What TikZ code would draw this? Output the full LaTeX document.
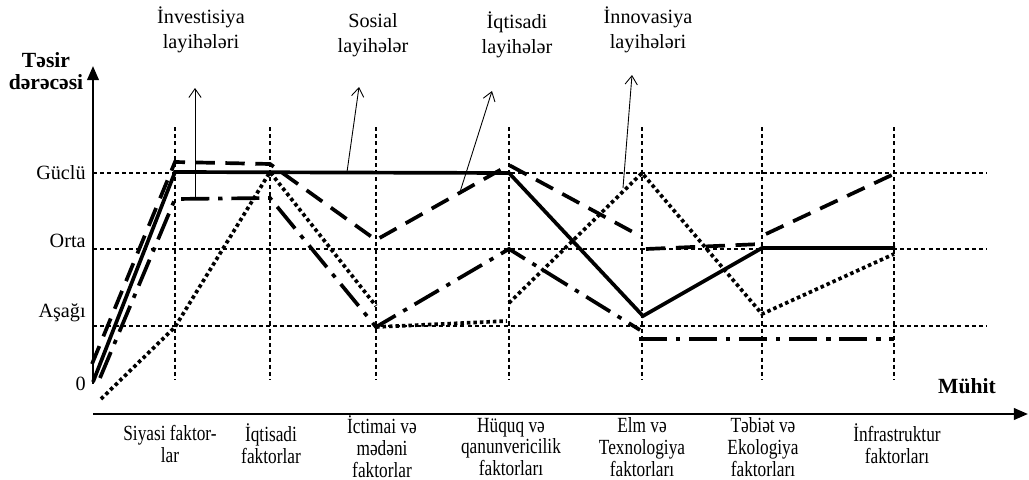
\documentclass[tikz,border=0pt]{standalone}
\usepackage{fontspec}
\setmainfont{Liberation Serif}
\newfontfamily\condfont[FakeStretch=0.8]{Liberation Serif}
\usetikzlibrary{arrows.meta}

\begin{document}
\begin{tikzpicture}[x=0.02cm,y=-0.02cm,
  grid/.style={line width=0.6pt, dash pattern=on 2.3pt off 1.8pt},
  axis/.style={line width=1.4pt, -{Triangle[length=8pt,width=6.5pt]}},
  solidser/.style={line width=2.1pt},
  dashser/.style={line width=2.1pt, dash pattern=on 11pt off 6pt},
  dashdotser/.style={line width=2.1pt, dash pattern=on 16pt off 5pt on 2.5pt off 5pt},
  dotser/.style={line width=2.1pt, dash pattern=on 2pt off 1.7pt},
  pointer/.style={line width=0.5pt, -{Straight Barb[length=5pt,width=7pt]}},
  lbl/.style={font=\fontsize{11.5}{14.2}\selectfont, align=center, inner sep=0pt},
  level/.style={font=\fontsize{11.5}{13}\selectfont, anchor=east, inner sep=0pt},
  factor/.style={font=\condfont\fontsize{12.3}{12.5}\selectfont, align=center, inner sep=0pt},
  axislabel/.style={font=\bfseries\fontsize{12.3}{12.5}\selectfont, align=center, inner sep=0pt}
]
\useasboundingbox (0,0) rectangle (1029,480);

% axes
\coordinate (O) at (93,414);
\coordinate (ytip) at (93,66);
\coordinate (xtip) at (1028,414);
\draw[axis] (93,384) -- (ytip);
\draw[axis] (O) -- (xtip);

% horizontal level lines
\foreach \y in {173,249,326} \draw[grid] (93,\y) -- (987,\y);
% vertical factor lines
\foreach \x in {175,270,376,509,642,762,894} \draw[grid] (\x,127) -- (\x,380);

% level labels
\node[level] (strong) at (86,173) {Güclü};
\node[level] (mid) at (86,241) {Orta};
\node[level] (low) at (86,313) {Aşağı};
\node[level] (zero) at (86,384) {0};

% axis titles
\node[axislabel] (ytitle) at (46,71) {Təsir\\dərəcəsi};
\node[axislabel] (xtitle) at (967,386) {Mühit};

% factor labels
\node[factor] (f1) at (170,444) {Siyasi faktor-\\lar};
\node[factor] (f2) at (271,444) {İqtisadi\\faktorlar};
\node[factor] (f3) at (382,447) {İctimai və\\mədəni\\faktorlar};
\node[factor] (f4) at (511,447) {Hüquq və\\qanunvericilik\\faktorları};
\node[factor] (f5) at (642,447) {Elm və\\Texnologiya\\faktorları};
\node[factor] (f6) at (763,447) {Təbiət və\\Ekologiya\\faktorları};
\node[factor] (f7) at (897,444) {İnfrastruktur\\faktorları};

% project labels
\node[lbl] (inv) at (201,30) {İnvestisiya\\layihələri};
\node[lbl] (soc) at (373,35) {Sosial\\layihələr};
\node[lbl] (eco) at (517,35) {İqtisadi\\layihələr};
\node[lbl] (inn) at (648,30) {İnnovasiya\\layihələri};

% series: solid
\draw[solidser] (93,382) -- (175,172) -- (509,173) -- (643,316) -- (762,248) -- (895,248);

% series: dashed
\draw[dashser] (92,364) -- (175,162) -- (270,164) -- (376,240) -- (509,165) -- (642,237);
\draw[dashser] (646,249) -- (762,244);
\draw[dashser] (766,234) -- (894,174);

% series: dash-dot
\draw[dashdotser] (100,378) -- (175,199) -- (270,198) -- (376,327) -- (509,249) -- (640,330);
\draw[dashdotser] (639,339) -- (894,339);

% series: dotted
\draw[dotser] (101,399) -- (175,327) -- (270,172) -- (376,306);
\draw[dotser] (376,327) -- (507,321);
\draw[dotser] (509,303) -- (642,173) -- (762,314) -- (894,254);

% pointers to project labels
\coordinate (pinv) at (195,199);
\coordinate (psoc) at (347,172);
\coordinate (peco) at (460,192);
\coordinate (pinn) at (623,188);
\draw[pointer] (pinv) -- (195,88);
\draw[pointer] (psoc) -- (359,87);
\draw[pointer] (peco) -- (492,91);
\draw[pointer] (pinn) -- (632,75);
\end{tikzpicture}
\end{document}
